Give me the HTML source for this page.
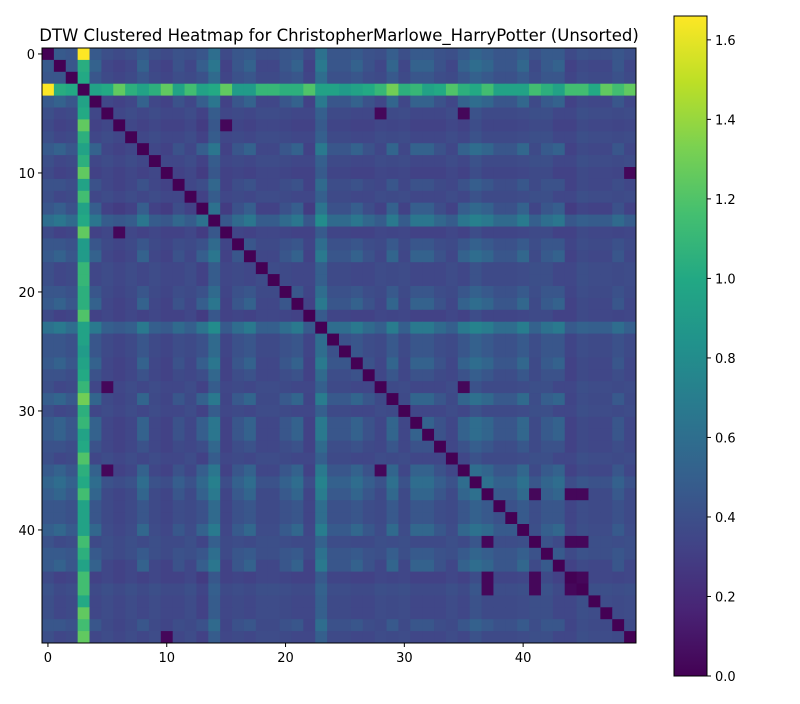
<!DOCTYPE html>
<html><head><meta charset="utf-8"><style>
body{margin:0;background:#fff;font-family:"DejaVu Sans","Liberation Sans",sans-serif}
svg text{font-family:"DejaVu Sans","Liberation Sans",sans-serif;fill:#000}
</style></head><body>
<svg id="chart" width="800" height="700" xmlns="http://www.w3.org/2000/svg">
<defs><linearGradient id="vir" x1="0" y1="1" x2="0" y2="0">
<stop offset="0" stop-color="#440154"/><stop offset="0.1" stop-color="#482475"/><stop offset="0.2" stop-color="#414487"/><stop offset="0.3" stop-color="#355f8d"/><stop offset="0.4" stop-color="#2a788e"/><stop offset="0.5" stop-color="#21918c"/><stop offset="0.6" stop-color="#22a884"/><stop offset="0.7" stop-color="#44bf70"/><stop offset="0.8" stop-color="#7ad151"/><stop offset="0.9" stop-color="#bddf26"/><stop offset="1" stop-color="#fde725"/></linearGradient></defs>
<text x="339" y="41" font-size="16.5" text-anchor="middle">DTW Clustered Heatmap for ChristopherMarlowe_HarryPotter (Unsorted)</text>
<g id="cells"></g>
<rect x="42" y="48" width="594" height="595" fill="none" stroke="#000" stroke-width="1"/>
<g id="axes"></g>
<rect x="674" y="16" width="33" height="660" fill="url(#vir)" stroke="#000" stroke-width="1"/>
<g id="cbar"></g>
</svg>
<script>
const N = 50;
const levels = [0.45,0.45,0.42,0.45,0.45,0.38,0.35,0.38,0.45,0.38,0.35,0.40,0.38,0.42,0.58,0.35,0.42,0.45,0.38,0.38,0.42,0.45,0.35,0.60,0.42,0.42,0.45,0.40,0.38,0.47,0.38,0.45,0.45,0.40,0.38,0.45,0.52,0.47,0.42,0.42,0.48,0.40,0.45,0.45,0.35,0.40,0.38,0.38,0.42,0.38];
const texture = [0,1,0,0,1,-1,-1,-1,1,-1,-1,0,-1,1,1,-1,0,1,-1,-1,0,1,-1,1,0,0,1,0,-1,1,-1,1,1,0,-1,1,1,1,0,0,1,-1,0,1,-1,-1,-1,-1,0,-1];
const row3 = [1.66,1.03,1.0,0,0.95,1.0,1.25,1.05,0.95,1.05,1.25,0.95,1.15,0.95,1.0,1.25,0.9,0.9,1.1,1.1,1.05,1.05,1.2,0.95,0.95,0.9,0.95,1.0,1.1,1.3,1.05,1.1,0.95,1.0,1.2,1.05,1.0,1.15,0.95,0.95,0.95,1.15,1.05,0.95,1.15,1.15,1.0,1.25,1.15,1.25];
const lowPairs = [[6,15],[5,28],[5,35],[28,35],[10,49],[37,41],[37,44],[37,45],[41,44],[41,45],[44,45]];
const xTicks = [0,10,20,30,40];
const cbTicks = [0.0,0.2,0.4,0.6,0.8,1.0,1.2,1.4,1.6];
const VMAX = 1.66;

const X0=42,Y0=48,W=594,H=595;
const cw=W/N, ch=H/N;
const xs=i=>X0+i*cw, ys=i=>Y0+i*ch;
const stops=["#440154","#482475","#414487","#355f8d","#2a788e","#21918c","#22a884","#44bf70","#7ad151","#bddf26","#fde725"];
function hex(h){return [1,3,5].map(k=>parseInt(h.substr(k,2),16));}
function vir(v){let t=Math.max(0,Math.min(1,v/VMAX))*10;let k=Math.min(9,Math.floor(t));let f=t-k;let a=hex(stops[k]),b=hex(stops[k+1]);return "rgb("+a.map((c,m)=>Math.round(c+(b[m]-c)*f)).join(",")+")";}
function val(i,j){
  if(i===j) return 0;
  if(i===3) return row3[j];
  if(j===3) return row3[i];
  for(const p of lowPairs){if((p[0]===i&&p[1]===j)||(p[0]===j&&p[1]===i)) return 0.03;}
  return Math.max(0.08, levels[i]+levels[j]-0.43+0.05*texture[i]*texture[j]);
}
const NS="http://www.w3.org/2000/svg";
const g=document.getElementById('cells');
for(let i=0;i<N;i++)for(let j=0;j<N;j++){
  const r=document.createElementNS(NS,'rect');
  
  
  r.setAttribute('x',xs(j));r.setAttribute('y',ys(i));
  r.setAttribute('width',cw+0.5);r.setAttribute('height',ch+0.5);
  r.setAttribute('fill',vir(val(i,j)));
  g.appendChild(r);
}
const ax=document.getElementById('axes');
for(const t of xTicks){
  const cx=xs(t)+cw/2, cy=ys(t)+ch/2;
  let l=document.createElementNS(NS,'line');
  
  
  l.setAttribute('x1',cx);l.setAttribute('x2',cx);l.setAttribute('y1',Y0+H);l.setAttribute('y2',Y0+H+4);l.setAttribute('stroke','#000');ax.appendChild(l);
  let tx=document.createElementNS(NS,'text');
  
  
  tx.setAttribute('x',cx);tx.setAttribute('y',Y0+H+19);tx.setAttribute('font-size','13');tx.setAttribute('text-anchor','middle');tx.textContent=t;ax.appendChild(tx);
  let l2=document.createElementNS(NS,'line');
  
  
  l2.setAttribute('x1',X0-4);l2.setAttribute('x2',X0);l2.setAttribute('y1',cy);l2.setAttribute('y2',cy);l2.setAttribute('stroke','#000');ax.appendChild(l2);
  let ty=document.createElementNS(NS,'text');
  
  
  ty.setAttribute('x',X0-7);ty.setAttribute('y',cy+5);ty.setAttribute('font-size','13');ty.setAttribute('text-anchor','end');ty.textContent=t;ax.appendChild(ty);
}
const cb=document.getElementById('cbar');
for(const t of cbTicks){
  const y=676-t/VMAX*660;
  let l=document.createElementNS(NS,'line');
  
  
  l.setAttribute('x1',707);l.setAttribute('x2',711);l.setAttribute('y1',y);l.setAttribute('y2',y);l.setAttribute('stroke','#000');cb.appendChild(l);
  let tx=document.createElementNS(NS,'text');
  
  
  tx.setAttribute('x',715);tx.setAttribute('y',y+5);tx.setAttribute('font-size','13');tx.textContent=t.toFixed(1);cb.appendChild(tx);
}
</script>
</body></html>
